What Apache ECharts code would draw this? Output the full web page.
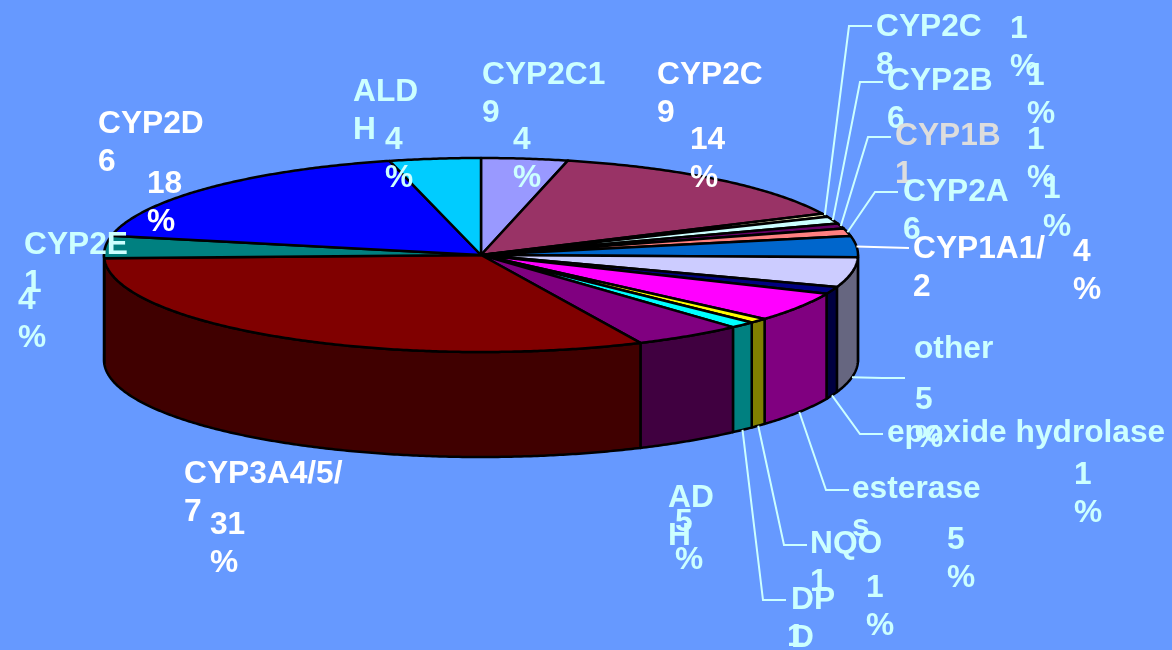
<!DOCTYPE html>
<html>
<head>
<meta charset="utf-8">
<style>html,body{margin:0;padding:0;background:#6699ff}#chart{width:1172px;height:650px}</style>
<script src="https://cdn.jsdelivr.net/npm/echarts@6/dist/echarts.min.js"></script>
</head>
<body>
<div id="chart"></div>
<script>
// Data, clockwise from 12 o'clock
const categories = ['CYP2C19','CYP2C9','CYP2C8','CYP2B6','CYP1B1','CYP2A6','CYP1A1/2','other','epoxide hydrolase','esterases','NQO1','DPD','ADH','CYP3A4/5/7','CYP2E1','CYP2D6','ALDH'];
const shares = [3.7,14.3,0.55,1.2,0.85,1.25,3.5,5.0,1.2,4.9,0.8,1.1,4.7,31.4,3.75,17.9,3.9];
// How each name wraps in its label box
const wrappedNames = ['CYP2C1\n9','CYP2C\n9','CYP2C\n8','CYP2B\n6','CYP1B\n1','CYP2A\n6','CYP1A1/\n2','other','epoxide hydrolase','esterase\ns','NQO\n1','DP\nD','AD\nH','CYP3A4/5/\n7','CYP2E\n1','CYP2D\n6','ALD\nH'];
// Styles
const topColors = ['#9999ff','#993366','#ffffcc','#ccffff','#660066','#ff8080','#0066cc','#ccccff','#000080','#ff00ff','#ffff00','#00ffff','#800080','#800000','#008080','#0000ff','#00ccff'];
const sideColors = ['#4d4d80','#4d1a33','#808066','#668080','#330033','#804040','#003366','#666680','#000040','#800080','#808000','#008080','#400040','#400000','#004040','#000080','#006680'];
const nameColors = ['#ccffff','#ffffff','#ccffff','#ccffff','#dddddd','#ccffff','#ffffff','#ccffff','#ccffff','#ccffff','#ccffff','#ccffff','#ccffff','#ffffff','#ccffff','#ffffff','#ccffff'];
const pctColors  = ['#ccffff','#ffffff','#ccffff','#ccffff','#ccffff','#ccffff','#ffffff','#ccffff','#ccffff','#ccffff','#ccffff','#ccffff','#ccffff','#ffffff','#ccffff','#ffffff','#ccffff'];
// Label placement: [x, first-line centre y]
const namePos = [[482,75],[657,75],[876,27],[887,81],[895,136],[903,192],[913,249],[914,349],[887,433],[852,489],[810,544],[791,600],[668,498],[184,474],[24,245],[98,124],[353,92]];
const pctPos  = [[513,140],[690,140],[1010,29],[1027,76],[1027,140],[1043,189],[1073,252],[915,400],[1074,475],[947,540],[866,588],[787,637],[675,522],[210,525],[18,300],[147,184],[385,140]];
// Leader lines: slice index -> far end of the line, with the rim they start from
const leaderEnds = {2:[872,26],3:[883,82],4:[891,137],5:[898,192],6:[909,248],7:[905,378],8:[883,434],9:[849,490],10:[807,545],11:[786,600]};
const leaderSide = [7,8,9,10,11];

const geo = {cx:481, cy:255, rx:377, ry:97, depth:105};
const lineH = 38, fontSize = 31.7;
const total = shares.reduce((a,b)=>a+b,0);
const starts = []; let acc = 0;
shares.forEach(v=>{starts.push(acc/total*360); acc+=v;});
const rimPt = (deg, dy=0) => {
  const r = deg*Math.PI/180;
  return [geo.cx+geo.rx*Math.sin(r), geo.cy-geo.ry*Math.cos(r)+dy];
};
const arc = (a,b,dy=0) => {
  const n = Math.max(2,Math.ceil(Math.abs(b-a)*2)), pts=[];
  for(let i=0;i<=n;i++) pts.push(rimPt(a+(b-a)*i/n,dy));
  return pts;
};

function renderSlice(params, api){
  const i = params.dataIndex, a = starts[i], b = a + api.value(0)/total*360;
  const children = [];
  const wa = Math.max(a,90), wb = Math.min(b,270);
  if (wb>wa) children.push({type:'polygon',shape:{points:arc(wa,wb).concat(arc(wb,wa,geo.depth))},
    style:{fill:sideColors[i],stroke:'#000',lineWidth:2.5,lineJoin:'round'}});
  children.push({type:'polygon',shape:{points:[[geo.cx,geo.cy]].concat(arc(a,b))},
    style:{fill:topColors[i],stroke:'#000',lineWidth:2.5,lineJoin:'round'}});
  return {type:'group',children};
}
function renderLabel(params, api){
  const i = params.dataIndex, v = api.value(0), mid = starts[i]+v/total*180;
  const children = [];
  const n = namePos[i], p = pctPos[i], end = leaderEnds[i];
  if (end){
    const s = rimPt(mid, leaderSide.includes(i)?geo.depth:0);
    const knee = [end[0]-23, end[1]];
    const pts = i===6 ? [s,end] : [s,knee,end];
    children.push({type:'polyline',shape:{points:pts},style:{fill:null,stroke:nameColors[i]==='#ffffff'?'#ffffff':'#ccffff',lineWidth:2}});
  }
  const font = `bold ${fontSize}px "Liberation Sans", Arial, sans-serif`;
  children.push({type:'text',style:{x:n[0],y:n[1]-lineH/2,text:wrappedNames[i],font,fill:nameColors[i],lineHeight:lineH,verticalAlign:'top',align:'left'}});
  children.push({type:'text',style:{x:p[0],y:p[1]-lineH/2,text:Math.round(v)+'\n%',font,fill:pctColors[i],lineHeight:lineH,verticalAlign:'top',align:'left'}});
  return {type:'group',children};
}

const chart = echarts.init(document.getElementById('chart'),null,{renderer:'canvas'});
const rows = categories.map((c,i)=>({name:c,value:[shares[i]]}));
chart.setOption({
  backgroundColor:'#6699ff',
  animation:false,
  series:[
    {type:'custom',coordinateSystem:'none',renderItem:renderSlice,data:rows,z:2,silent:true},
    {type:'custom',coordinateSystem:'none',renderItem:renderLabel,data:rows,z:3,silent:true,clip:false}
  ]
});
</script>
</body>
</html>
